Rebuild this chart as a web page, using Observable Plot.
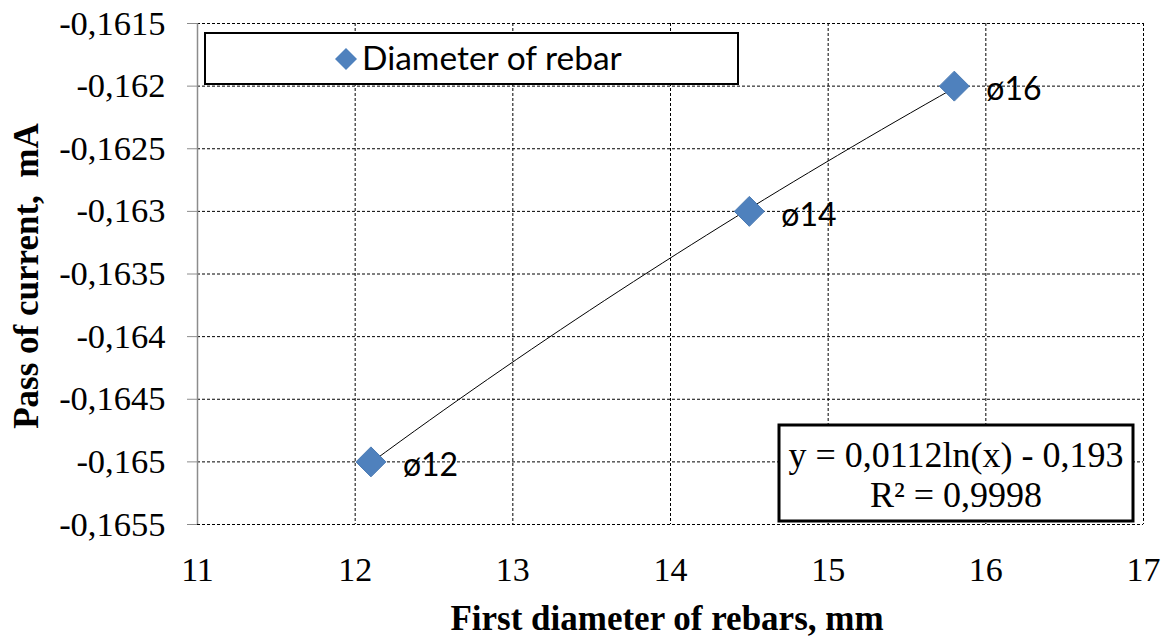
<!DOCTYPE html>
<html>
<head>
<meta charset="utf-8">
<script src="https://cdn.jsdelivr.net/npm/d3@7"></script>
<script src="https://cdn.jsdelivr.net/npm/@observablehq/plot@0.6"></script>
<style>
  html, body { margin: 0; padding: 0; background: #fff; }
  #chart svg { display: block; }
</style>
</head>
<body>
<div id="chart"></div>
<script>
// Measured points: rebar diameter vs. pass of current
const labels = ["ø12", "ø14", "ø16"];
const diameters = [12.1, 14.5, 15.8];
const currents = [-0.165, -0.163, -0.162];

const xTicks = [11, 12, 13, 14, 15, 16, 17];
const yTicks = [-0.1655, -0.165, -0.1645, -0.164, -0.1635, -0.163, -0.1625, -0.162, -0.1615];

const seriesName = "Diameter of rebar";
const equationText = "y = 0,0112ln(x) - 0,193";
const r2Text = "R² = 0,9998";
const xTitle = "First diameter of rebars, mm";
const yTitle = "Pass of current,  mA";

const points = labels.map((label, i) => ({label, x: diameters[i], y: currents[i]}));

// Logarithmic least-squares trendline y = a·ln(x) + b fitted to the points
const lx = diameters.map(Math.log);
const mx = d3.mean(lx), my = d3.mean(currents);
const a = d3.sum(lx, (v, i) => (v - mx) * (currents[i] - my)) / d3.sum(lx, v => (v - mx) ** 2);
const b = my - a * mx;
const [x0, x1] = d3.extent(diameters);
const trend = d3.range(0, 41).map(k => {
  const x = x0 + (x1 - x0) * k / 40;
  return {x, y: a * Math.log(x) + b};
});

const serif = "'Liberation Serif', serif";
const sans = "Lato, 'Noto Sans', sans-serif";
const blue = "#4F81BD";
const fmt = d => String(d).replace(".", ",");

const W = 1161, H = 637;
const mL = 197, mR = 18, mT = 23, mB = 113;

const chart = Plot.plot({
  width: W,
  height: H,
  marginLeft: mL,
  marginRight: mR,
  marginTop: mT,
  marginBottom: mB,
  style: {fontFamily: serif, fontSize: "34px", color: "black", background: "white"},
  x: {domain: [11, 17]},
  y: {domain: [-0.1655, -0.1615]},
  marks: [
    Plot.gridY(yTicks, {stroke: "black", strokeOpacity: 1, strokeWidth: 1, strokeDasharray: "3,2"}),
    Plot.gridX(xTicks, {stroke: "black", strokeOpacity: 1, strokeWidth: 1, strokeDasharray: "3,2"}),
    Plot.ruleX([11], {stroke: "#8c8c8c", strokeWidth: 1.5}),
    Plot.axisY(yTicks, {tickSize: 10, tickPadding: 22, tickFormat: fmt, label: null,
      fontFamily: serif, fontSize: 34.5}),
    Plot.axisX(xTicks, {tickSize: 0, tickPadding: 32, tickFormat: d => String(d), label: null,
      fontFamily: serif, fontSize: 34}),
    Plot.line(trend, {x: "x", y: "y", stroke: "black", strokeWidth: 1}),
    Plot.dot(points, {x: "x", y: "y", symbol: "diamond2", r: 13.5, fill: blue, stroke: "#4a7ab3", strokeWidth: 1}),
    Plot.text(points, {x: "x", y: "y", text: "label", textAnchor: "start", dx: 32, dy: 4,
      fontFamily: sans, fontSize: 32, fill: "black"})
  ]
});

document.getElementById("chart").appendChild(chart);

const svg = d3.select(chart);

// Grey tick marks on the value axis
svg.selectAll('g[aria-label="y-axis tick"]').attr("stroke", "#8c8c8c");

// Legend box in the upper left of the plot area
const leg = svg.append("g");
leg.append("rect")
  .attr("x", 205).attr("y", 33).attr("width", 533).attr("height", 51)
  .attr("fill", "white").attr("stroke", "black").attr("stroke-width", 2);
leg.append("path")
  .attr("d", d3.symbol(d3.symbolDiamond2, 310)())
  .attr("transform", "translate(346,59)")
  .attr("fill", blue);
leg.append("text")
  .attr("x", 362).attr("y", 70).attr("text-anchor", "start")
  .style("font-family", sans).attr("font-size", 33.5)
  .text(seriesName);

// Trendline equation box
const eq = svg.append("g").style("font-family", serif);
eq.append("rect")
  .attr("x", 779).attr("y", 425).attr("width", 354).attr("height", 96)
  .attr("fill", "white").attr("stroke", "black").attr("stroke-width", 3);
eq.append("text")
  .attr("x", 956).attr("y", 467).attr("text-anchor", "middle")
  .attr("font-size", 36)
  .text(equationText);
eq.append("text")
  .attr("x", 956).attr("y", 507).attr("text-anchor", "middle")
  .attr("font-size", 36)
  .text(r2Text);

// Axis titles
svg.append("text")
  .attr("x", 667).attr("y", 630).attr("text-anchor", "middle")
  .style("font-family", serif).attr("font-size", 35).attr("font-weight", "bold")
  .text(xTitle);
svg.append("text")
  .attr("transform", "translate(38,276) rotate(-90)")
  .attr("text-anchor", "middle")
  .style("font-family", serif).attr("font-size", 35).attr("font-weight", "bold")
  .text(yTitle);
</script>
</body>
</html>
